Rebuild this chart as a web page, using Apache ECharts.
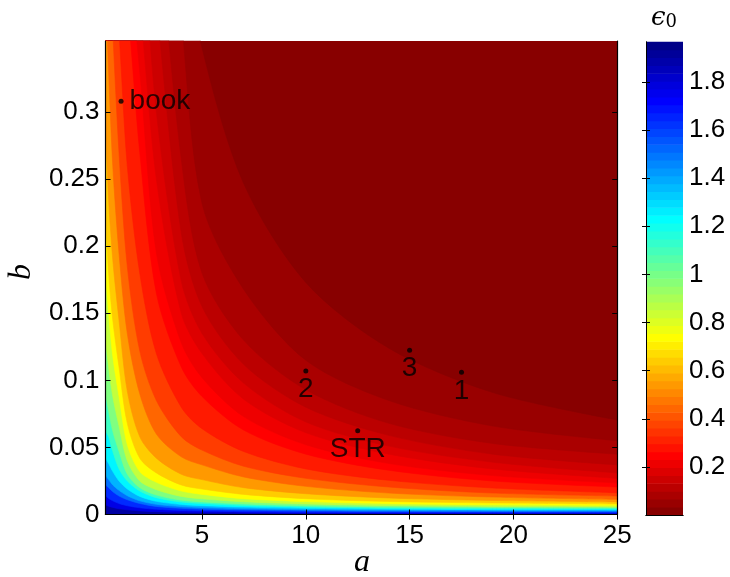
<!DOCTYPE html>
<html><head><meta charset="utf-8">
<script src="https://cdn.jsdelivr.net/npm/echarts@6/dist/echarts.min.js"></script>
<style>html,body{margin:0;padding:0;background:#fff}#c{width:730px;height:577px}</style>
</head><body><div id="c"></div>
<script>
// ---- data ----
const aGrid = [0.35, 0.5, 0.7, 1, 1.4, 2, 2.8, 4, 5, 7, 10, 14, 19, 25];
// contour levels of eps0 (boundaries); curve k gives b where eps0 == levels[k]
const levels = [0.0328, 0.0655, 0.0983, 0.1311, 0.1638, 0.1966, 0.2294, 0.2621, 0.3277, 0.3932, 0.4915,
  0.5898, 0.6881, 0.7864, 0.9175, 1.0485, 1.1796, 1.3107, 1.4417, 1.5728, 1.7039, 1.8349];
const L1  = [0.6, 0.6, 0.6, 0.6, 0.6, 0.6, 0.6, 0.435, 0.348, 0.247, 0.173, 0.124, 0.091, 0.0705];
const L2  = [0.6, 0.6, 0.6, 0.6, 0.6, 0.6, 0.55, 0.37, 0.232, 0.168, 0.115, 0.085, 0.066, 0.055];
const L3  = [0.6, 0.6, 0.6, 0.6, 0.6, 0.55, 0.45, 0.265, 0.18, 0.13, 0.093, 0.068, 0.053, 0.045];
const L4  = [0.6, 0.6, 0.6, 0.6, 0.55, 0.5, 0.38, 0.21, 0.155, 0.112, 0.08, 0.059, 0.045, 0.037];
const L5  = [0.6, 0.6, 0.6, 0.55, 0.5, 0.45, 0.3, 0.174, 0.135, 0.098, 0.069, 0.051, 0.039, 0.031];
const L6  = [0.6, 0.6, 0.55, 0.5, 0.45, 0.38, 0.25, 0.15, 0.12, 0.086, 0.061, 0.045, 0.034, 0.027];
const L7  = [0.6, 0.55, 0.5, 0.45, 0.42, 0.33, 0.195, 0.128, 0.102, 0.073, 0.052, 0.038, 0.029, 0.0235];
const L8  = [0.55, 0.5, 0.45, 0.42, 0.38, 0.27, 0.165, 0.11, 0.088, 0.063, 0.045, 0.033, 0.025, 0.0205];
const L9  = [0.5, 0.45, 0.42, 0.36, 0.26, 0.18, 0.12, 0.08, 0.064, 0.047, 0.034, 0.0255, 0.0198, 0.0162];
const L10 = [0.45, 0.42, 0.36, 0.27, 0.185, 0.122, 0.085, 0.058, 0.048, 0.036, 0.027, 0.0205, 0.016, 0.0138];
const L11 = [0.39, 0.33, 0.26, 0.195, 0.135, 0.09, 0.06, 0.043, 0.037, 0.028, 0.021, 0.016, 0.013, 0.0113];
const L12 = [0.29, 0.235, 0.19, 0.145, 0.092, 0.058, 0.042, 0.03, 0.026, 0.02, 0.0155, 0.0123, 0.0105, 0.0094];
const L13 = [0.225, 0.18, 0.145, 0.11, 0.068, 0.042, 0.031, 0.022, 0.019, 0.015, 0.0118, 0.0097, 0.0086, 0.0079];
const L14 = [0.18, 0.15, 0.118, 0.088, 0.052, 0.032, 0.024, 0.0175, 0.015, 0.0118, 0.0096, 0.0081, 0.0072, 0.0066];
const L15 = [0.13, 0.11, 0.088, 0.066, 0.04, 0.025, 0.0185, 0.0135, 0.0117, 0.0095, 0.0079, 0.0067, 0.006, 0.0056];
const L16 = [0.09, 0.077, 0.062, 0.047, 0.03, 0.02, 0.0145, 0.0107, 0.0094, 0.0079, 0.0066, 0.0057, 0.0052, 0.0049];
const L17 = [0.062, 0.058, 0.047, 0.034, 0.025, 0.0175, 0.0125, 0.0093, 0.0082, 0.0067, 0.0056, 0.0048, 0.0044, 0.0042];
const L18 = [0.042, 0.038, 0.032, 0.025, 0.019, 0.0135, 0.0098, 0.0075, 0.0066, 0.0055, 0.0046, 0.004, 0.0036, 0.0035];
const L19 = [0.029, 0.026, 0.022, 0.018, 0.014, 0.0102, 0.0076, 0.0059, 0.0052, 0.0043, 0.0036, 0.0031, 0.0028, 0.0027];
const L20 = [0.022, 0.02, 0.017, 0.0138, 0.011, 0.0082, 0.006, 0.0046, 0.004, 0.0033, 0.0027, 0.0023, 0.0021, 0.002];
const L21 = [0.014, 0.012, 0.0102, 0.0082, 0.0065, 0.005, 0.0039, 0.003, 0.0026, 0.0021, 0.0017, 0.0015, 0.0014, 0.0013];
const L22 = [0.007, 0.0062, 0.0053, 0.0043, 0.0035, 0.0027, 0.0021, 0.0016, 0.0014, 0.0011, 0.0009, 0.0008, 0.00075, 0.0007];
const contourB = [L1, L2, L3, L4, L5, L6, L7, L8, L9, L10, L11, L12, L13, L14, L15, L16, L17, L18, L19, L20, L21, L22];

const cbEdges = [0, 0.0328, 0.0655, 0.0983, 0.1311, 0.1638, 0.1966, 0.2294, 0.2621, 0.2949, 0.3277, 0.3604,
  0.3932, 0.4260, 0.4587, 0.4915, 0.5243, 0.5570, 0.5898, 0.6226, 0.6553, 0.6881, 0.7209, 0.7536, 0.7864,
  0.8192, 0.8519, 0.8847, 0.9175, 0.9502, 0.9830, 1.0158, 1.0485, 1.0813, 1.1141, 1.1468, 1.1796, 1.2124,
  1.2451, 1.2779, 1.3107, 1.3434, 1.3762, 1.4090, 1.4417, 1.4745, 1.5073, 1.5400, 1.5728, 1.6056, 1.6383,
  1.6711, 1.7039, 1.7366, 1.7694, 1.8022, 1.8349, 1.8677, 1.9005, 1.9332, 1.966];
const xTicks = [5, 10, 15, 20, 25];
const yTicks = [0, 0.05, 0.1, 0.15, 0.2, 0.25, 0.3];
const cbTicks = [0.2, 0.4, 0.6, 0.8, 1, 1.2, 1.4, 1.6, 1.8];
const pointNames = ['book', '2', '3', '1', 'STR'];
const pointA = [1.1, 10, 15, 17.5, 12.5];
const pointB = [0.308, 0.107, 0.1225, 0.106, 0.0624];
const pointLabelPos = ['right', 'bottom', 'bottom', 'bottom', 'bottom'];

const A_MIN = 0.35, A_MAX = 25, B_MIN = 0, B_MAX = 0.353, V_MAX = 1.966;

// ---- styling ----
function jet(v) {
  const t = 1 - v / V_MAX;
  const c = x => Math.max(0, Math.min(1, x));
  const r = c(1.5 - Math.abs(4 * t - 3)), g = c(1.5 - Math.abs(4 * t - 2)), b = c(1.5 - Math.abs(4 * t - 1));
  return 'rgb(' + Math.round(r * 255) + ',' + Math.round(g * 255) + ',' + Math.round(b * 255) + ')';
}
const FONT = 'Liberation Sans';
const TICK_FS = 26;

const series = [];
for (let k = levels.length - 1; k >= 0; k--) {
  const lo = k === 0 ? 0 : levels[k - 1];
  const col = jet((lo + levels[k]) / 2);
  series.push({
    type: 'line', xAxisIndex: 0, yAxisIndex: 0,
    data: aGrid.map((a, i) => [a, contourB[k][i]]),
    smooth: 0.3, symbol: 'none', silent: true, clip: true,
    lineStyle: { width: 0.6, color: col }, areaStyle: { origin: 'end', color: col, opacity: 1 },
    z: 2, animation: false
  });
}
series.push({
  type: 'scatter', xAxisIndex: 0, yAxisIndex: 0, z: 20, symbolSize: 5, silent: true,
  itemStyle: { color: '#000' },
  data: pointNames.map((n, i) => ({
    value: [pointA[i], pointB[i]],
    label: { show: true, formatter: n, position: pointLabelPos[i], distance: pointLabelPos[i] === 'right' ? 6 : 2,
      fontSize: 28, fontFamily: FONT, color: '#000' }
  }))
});
series.push({
  type: 'custom', xAxisIndex: 4, yAxisIndex: 4, silent: true, z: 2,
  data: cbEdges.slice(0, -1).map((lo, i) => [lo, cbEdges[i + 1]]),
  renderItem: function (params, api) {
    const lo = api.value(0), hi = api.value(1);
    const p1 = api.coord([0, hi]), p2 = api.coord([1, lo]);
    return { type: 'rect', shape: { x: p1[0], y: p1[1] - 0.3, width: p2[0] - p1[0], height: p2[1] - p1[1] + 0.6 },
      style: { fill: jet((lo + hi) / 2) } };
  }
});

const axisLineStyle = { show: true, lineStyle: { color: '#000', width: 1.2 } };
const plotGrid = { left: 105.5, top: 41, width: 511.7, height: 473.5, show: true, backgroundColor: jet((levels[levels.length - 1] + V_MAX) / 2), borderWidth: 0 };
const cbGrid = { left: 646, top: 42, width: 37, height: 473, show: false };

const option = {
  animation: false,
  grid: [plotGrid, cbGrid],
  xAxis: [
    { type: 'value', gridIndex: 0, min: A_MIN, max: A_MAX, position: 'bottom', z: 10,
      axisLine: axisLineStyle, splitLine: { show: false },
      axisTick: { show: true, inside: true, length: 5, customValues: xTicks, lineStyle: { color: '#000' } },
      axisLabel: { show: true, customValues: xTicks, margin: 8, fontSize: TICK_FS, fontFamily: FONT, color: '#000', formatter: v => String(v) } },
    { type: 'value', gridIndex: 0, min: A_MIN, max: A_MAX, position: 'top', z: 10,
      axisLine: axisLineStyle, splitLine: { show: false },
      axisTick: { show: true, inside: true, length: 5, customValues: xTicks, lineStyle: { color: '#000' } },
      axisLabel: { show: false } },
    { type: 'value', gridIndex: 1, min: 0, max: 1, position: 'bottom', z: 10,
      axisLine: { show: true, lineStyle: { color: '#000', width: 1 } }, axisTick: { show: false }, axisLabel: { show: false }, splitLine: { show: false } },
    { type: 'value', gridIndex: 1, min: 0, max: 1, position: 'top', z: 10,
      axisLine: { show: true, lineStyle: { color: '#000', width: 1 } }, axisTick: { show: false }, axisLabel: { show: false }, splitLine: { show: false } },
    { type: 'value', gridIndex: 1, min: 0, max: 1, show: false }
  ],
  yAxis: [
    { type: 'value', gridIndex: 0, min: B_MIN, max: B_MAX, position: 'left', z: 10,
      axisLine: axisLineStyle, splitLine: { show: false },
      axisTick: { show: true, inside: true, length: 5, customValues: yTicks, lineStyle: { color: '#000' } },
      axisLabel: { show: true, customValues: yTicks, margin: 6, fontSize: TICK_FS, fontFamily: FONT, color: '#000', formatter: v => String(v) } },
    { type: 'value', gridIndex: 0, min: B_MIN, max: B_MAX, position: 'right', z: 10,
      axisLine: axisLineStyle, splitLine: { show: false },
      axisTick: { show: true, inside: true, length: 5, customValues: yTicks, lineStyle: { color: '#000' } },
      axisLabel: { show: false } },
    { type: 'value', gridIndex: 1, min: 0, max: V_MAX, position: 'right', z: 10,
      axisLine: { show: true, lineStyle: { color: '#000', width: 1 } }, splitLine: { show: false },
      axisTick: { show: true, inside: true, length: 4, customValues: cbTicks, lineStyle: { color: '#000' } },
      axisLabel: { show: true, customValues: cbTicks, margin: 6, fontSize: TICK_FS, fontFamily: FONT, color: '#000', formatter: v => String(v) } },
    { type: 'value', gridIndex: 1, min: 0, max: V_MAX, position: 'left', z: 10,
      axisLine: { show: true, lineStyle: { color: '#000', width: 1 } }, splitLine: { show: false },
      axisTick: { show: true, inside: true, length: 4, customValues: cbTicks, lineStyle: { color: '#000' } },
      axisLabel: { show: false } },
    { type: 'value', gridIndex: 1, min: 0, max: V_MAX, show: false }
  ],
  graphic: [
    { type: 'text', x: 362, y: 563, style: { text: 'a', font: 'italic 32px "Liberation Serif"', fill: '#000', textAlign: 'center', textVerticalAlign: 'middle' } },
    { type: 'text', x: 22, y: 272, rotation: Math.PI / 2, style: { text: 'b', font: 'italic 32px "Liberation Serif"', fill: '#000', textAlign: 'center', textVerticalAlign: 'middle' } },
    { type: 'text', x: 664, y: 18, style: { text: '{e|ϵ}{s|0}', textAlign: 'center', textVerticalAlign: 'middle',
      rich: { e: { font: 'italic 26px "DejaVu Serif"', fill: '#000', verticalAlign: 'bottom' }, s: { font: '18px "DejaVu Serif"', fill: '#000', padding: [8, 0, 0, 0] } } } }
  ],
  series: series
};
const chart = echarts.init(document.getElementById('c'), null, { renderer: 'canvas' });
chart.setOption(option);
</script>
</body></html>
